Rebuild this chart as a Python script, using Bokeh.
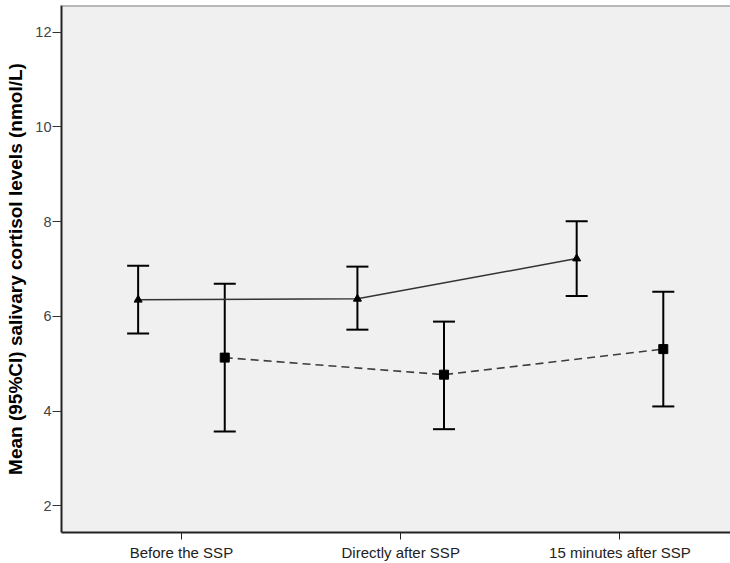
from bokeh.plotting import figure
from bokeh.models import (ColumnDataSource, Whisker, TeeHead, FixedTicker, Range1d, Span)
from bokeh.embed import file_html
from bokeh.resources import INLINE

# Measurement occasions
categories = ["Before the SSP", "Directly after SSP", "15 minutes after SSP"]

# Group shown with triangles / solid line: mean and 95% CI
tri_mean = [6.35, 6.37, 7.22]
tri_lower = [5.64, 5.72, 6.43]
tri_upper = [7.07, 7.05, 8.01]

# Group shown with squares / dashed line: mean and 95% CI
sq_mean = [5.13, 4.77, 5.31]
sq_lower = [3.57, 3.62, 4.10]
sq_upper = [6.69, 5.89, 6.52]

y_ticks = [2, 4, 6, 8, 10, 12]

# horizontal dodge of the two groups around each category centre
DODGE = 0.1975
idx = list(range(len(categories)))
tri_x = [i - DODGE for i in idx]
sq_x = [i + DODGE for i in idx]

tri_src = ColumnDataSource(dict(x=tri_x, mean=tri_mean, lower=tri_lower, upper=tri_upper))
sq_src = ColumnDataSource(dict(x=sq_x, mean=sq_mean, lower=sq_lower, upper=sq_upper))

y_lo, y_hi = 1.44, 12.56
p = figure(width=730, height=563, output_backend="svg", toolbar_location=None,
           x_range=Range1d(-0.547, 2.504), y_range=Range1d(y_lo, y_hi),
           min_border_left=61, min_border_right=0, min_border_top=5, min_border_bottom=31)

p.background_fill_color = "#f0f0f0"
p.border_fill_color = "white"
p.outline_line_color = None
p.xgrid.visible = False
p.ygrid.visible = False

# frame top edge
p.add_layout(Span(location=y_hi, dimension="width", line_color="#7c7c7c", line_width=2))

# connecting lines
p.line("x", "mean", source=tri_src, line_color="#333333", line_width=1.5)
p.line("x", "mean", source=sq_src, line_color="#3c3c3c", line_width=1.6, line_dash="8 5")

# 95% CI error bars
for src in (tri_src, sq_src):
    w = Whisker(base="x", lower="lower", upper="upper", source=src,
                line_color="black", line_width=2,
                upper_head=TeeHead(size=22, line_color="black", line_width=2),
                lower_head=TeeHead(size=22, line_color="black", line_width=2))
    p.add_layout(w)

# means
p.scatter("x", "mean", source=tri_src, marker="triangle", size=8, color="black")
p.scatter("x", "mean", source=sq_src, marker="square", size=9, color="black")

# x axis
p.xaxis.ticker = FixedTicker(ticks=idx)
p.xaxis.major_label_overrides = {i: c for i, c in zip(idx, categories)}
p.xaxis.minor_tick_line_color = None
p.xaxis.major_tick_out = 7
p.xaxis.major_tick_in = 0
p.xaxis.major_tick_line_color = "#222222"
p.xaxis.axis_line_color = "#222222"
p.xaxis.axis_line_width = 2
p.xaxis.major_label_text_font = "Liberation Sans"
p.xaxis.major_label_text_font_size = "15px"
p.xaxis.major_label_text_color = "#222222"
p.xaxis.major_label_standoff = 4

# y axis
p.yaxis.ticker = FixedTicker(ticks=y_ticks)
p.yaxis.minor_tick_line_color = None
p.yaxis.major_tick_out = 9
p.yaxis.major_tick_in = 0
p.yaxis.major_tick_line_color = "#333333"
p.yaxis.axis_line_color = "#222222"
p.yaxis.axis_line_width = 2
p.yaxis.major_label_text_font = "Liberation Sans"
p.yaxis.major_label_text_font_size = "14.5px"
p.yaxis.major_label_text_color = "#444444"
p.yaxis.major_label_standoff = 1
p.yaxis.axis_label = "Mean (95%CI) salivary cortisol levels (nmol/L)"
p.yaxis.axis_label_text_font = "Liberation Sans"
p.yaxis.axis_label_text_font_style = "bold"
p.yaxis.axis_label_text_font_size = "19px"
p.yaxis.axis_label_text_color = "black"
p.yaxis.axis_label_standoff = 6

open("out.html", "w").write(file_html(p, INLINE))
